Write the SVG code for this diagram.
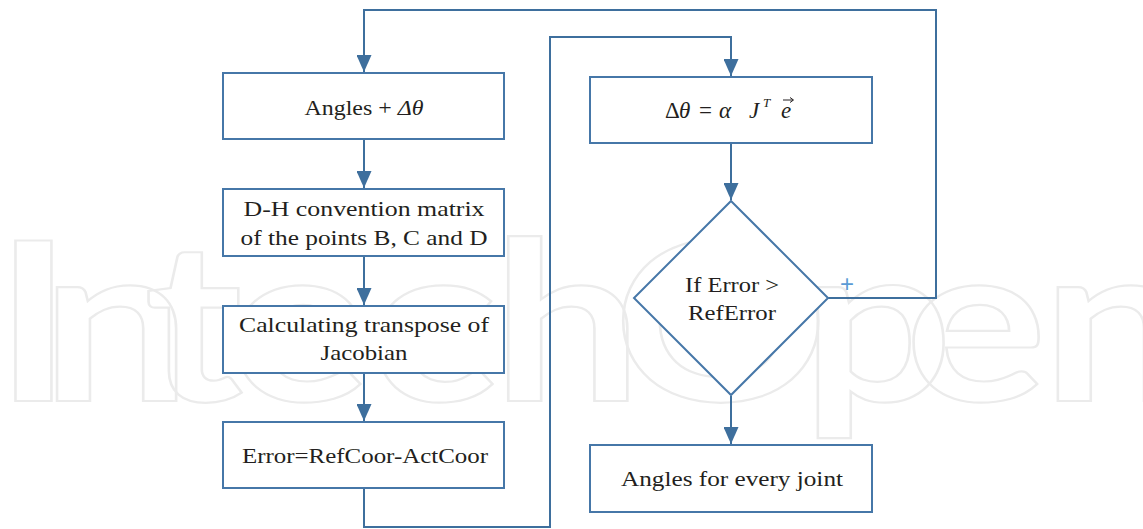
<svg xmlns="http://www.w3.org/2000/svg" width="1143" height="529" viewBox="0 0 1143 529">
<style>
.wm{font-family:Lato,"Open Sans",sans-serif;font-size:222px;font-weight:700;fill:none;stroke:#ebebeb;stroke-width:2.2}
.box{fill:#fff;stroke:#4677a8;stroke-width:2}
.lbl{font-family:"Liberation Serif","Times New Roman",serif;font-size:21px;fill:#231f20;text-anchor:middle}
.math{font-family:"Liberation Serif","Times New Roman",serif;font-size:23px;fill:#231f20}
.conn{fill:none;stroke:#3e6f9d;stroke-width:2}
.plus{font-family:"Liberation Sans",Arial,sans-serif;font-size:24px;fill:#5b9bd5;text-anchor:middle}
</style>
<defs>
<marker id="ah" viewBox="0 0 17 15" refX="17" refY="7.5" markerWidth="17" markerHeight="15" markerUnits="userSpaceOnUse" orient="auto">
<path d="M0,0 L17,7.5 L0,15 z" fill="#3e6f9d"/>
</marker>
</defs>
<rect width="1143" height="529" fill="#fff"/>
<text class="wm" transform="scale(1.2,1)" y="401" x="-5 34 120 190 307 410 511 668 754 868">IntechOpen</text>

<g id="connectors">
<path class="conn" d="M828,298 H936 V10 H364 V72" marker-end="url(#ah)"/>
<path class="conn" d="M364,139 V188" marker-end="url(#ah)"/>
<path class="conn" d="M364,256 V305" marker-end="url(#ah)"/>
<path class="conn" d="M364,373 V421" marker-end="url(#ah)"/>
<path class="conn" d="M364,488 V527 H550 V37 H731 V76" marker-end="url(#ah)"/>
<path class="conn" d="M731,143 V200" marker-end="url(#ah)"/>
<path class="conn" d="M731,396 V444" marker-end="url(#ah)"/>
</g>

<g id="n1">
<rect class="box" x="223" y="73" width="281" height="66"/>
<text class="lbl" x="364" y="115" textLength="119" lengthAdjust="spacingAndGlyphs">Angles + <tspan font-style="italic">Δθ</tspan></text>
</g>
<g id="n2">
<rect class="box" x="223" y="189" width="281" height="67"/>
<text class="lbl" x="364" y="216" textLength="241" lengthAdjust="spacingAndGlyphs">D-H convention matrix</text>
<text class="lbl" x="364" y="245" textLength="247" lengthAdjust="spacingAndGlyphs">of the points B, C and D</text>
</g>
<g id="n3">
<rect class="box" x="223" y="306" width="281" height="67"/>
<text class="lbl" x="364" y="332" textLength="250" lengthAdjust="spacingAndGlyphs">Calculating transpose of</text>
<text class="lbl" x="364" y="360" textLength="87" lengthAdjust="spacingAndGlyphs">Jacobian</text>
</g>
<g id="n4">
<rect class="box" x="223" y="422" width="281" height="66"/>
<text class="lbl" x="365" y="463" textLength="246" lengthAdjust="spacingAndGlyphs">Error=RefCoor-ActCoor</text>
</g>
<g id="n5">
<rect class="box" x="590" y="77" width="282" height="66"/>
<text class="math" y="118"><tspan x="665">Δ</tspan><tspan x="679" font-style="italic">θ</tspan><tspan x="699">=</tspan><tspan x="719" font-style="italic">α</tspan><tspan x="749" font-style="italic">J</tspan><tspan x="763" y="107" font-size="13" font-style="italic">T</tspan><tspan x="781" y="118" font-style="italic">e</tspan></text>
<path d="M783,100 H793 M790,97.5 L793.5,100 L790,102.5" fill="none" stroke="#231f20" stroke-width="1"/>
</g>
<g id="n6">
<path class="box" d="M731,201 L828,298 L731,395 L634,298 z"/>
<text class="lbl" x="732" y="292" textLength="94" lengthAdjust="spacingAndGlyphs">If Error &gt;</text>
<text class="lbl" x="732" y="320" textLength="88" lengthAdjust="spacingAndGlyphs">RefError</text>
<text class="plus" x="847" y="292">+</text>
</g>
<g id="n7">
<rect class="box" x="590" y="445" width="282" height="67"/>
<text class="lbl" x="732" y="486" textLength="222" lengthAdjust="spacingAndGlyphs">Angles for every joint</text>
</g>
</svg>
